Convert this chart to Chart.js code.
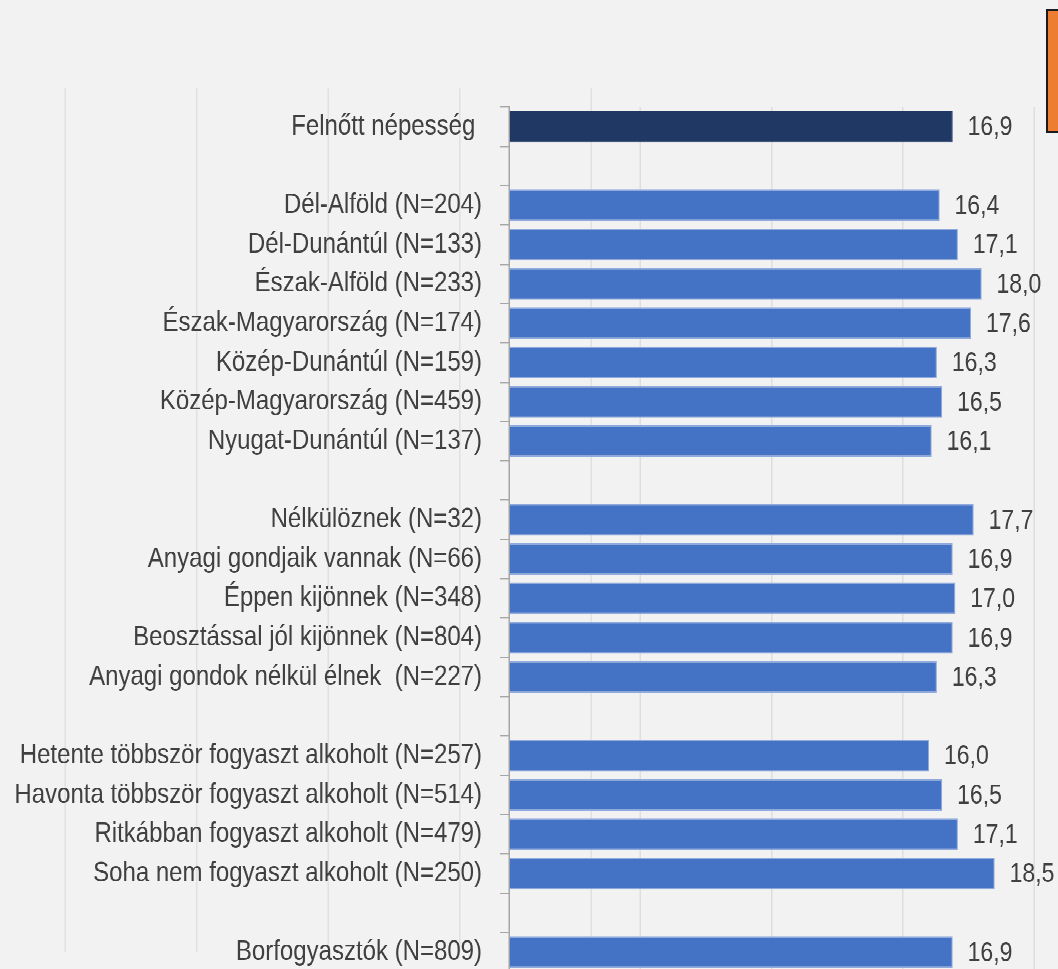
<!DOCTYPE html>
<html>
<head>
<meta charset="utf-8">
<script src="https://cdn.jsdelivr.net/npm/chart.js@4.4.1/dist/chart.umd.min.js"></script>
<style>
  html, body { margin: 0; padding: 0; background: #f2f2f2; overflow: hidden; width: 1058px; height: 969px; }
  /* the source picture is stretched vertically, so the whole stage is too */
  #stage { position: absolute; left: 0; top: 0; width: 1058px; height: 860px; transform: scaleY(1.18); transform-origin: 0 0; }
  .box { position: absolute; left: 0; top: 0; width: 1058px; }
  #tag { position: absolute; left: 1046px; top: 9px; width: 20px; height: 120px; background: #ED7D31; border: 2px solid #1b1b1b; }
</style>
</head>
<body>
<div id="stage">
  <div class="box" style="height:826px"><canvas id="ghost"></canvas></div>
  <div class="box" style="height:856px"><canvas id="main"></canvas></div>
</div>
<div id="tag"></div>
<script>
// categories ('' = empty row between groups)
var categories = [
  "Felnőtt népesség ",
  "",
  "Dél-Alföld (N=204)",
  "Dél-Dunántúl (N=133)",
  "Észak-Alföld (N=233)",
  "Észak-Magyarország (N=174)",
  "Közép-Dunántúl (N=159)",
  "Közép-Magyarország (N=459)",
  "Nyugat-Dunántúl (N=137)",
  "",
  "Nélkülöznek (N=32)",
  "Anyagi gondjaik vannak (N=66)",
  "Éppen kijönnek (N=348)",
  "Beosztással jól kijönnek (N=804)",
  "Anyagi gondok nélkül élnek  (N=227)",
  "",
  "Hetente többször fogyaszt alkoholt (N=257)",
  "Havonta többször fogyaszt alkoholt (N=514)",
  "Ritkábban fogyaszt alkoholt (N=479)",
  "Soha nem fogyaszt alkoholt (N=250)",
  "",
  "Borfogyasztók (N=809)",
];

var values = [
  16.9,
  null,
  16.4, 17.1, 18.0, 17.6, 16.3, 16.5, 16.1,
  null,
  17.7, 16.9, 17.0, 16.9, 16.3,
  null,
  16.0, 16.5, 17.1, 18.5,
  null,
  16.9,
];

var xTicks = [0, 5, 10, 15, 20];

var STRETCH = 1.18;
var textColor = "#404040";
var fontFamily = '"Liberation Sans", Arial, sans-serif';

var barColors = values.map(function (v, i) { return i === 0 ? "#1F3864" : "#4472C4"; });
var barBorders = values.map(function (v, i) { return i === 0 ? "#1F3864" : "#8FAADC"; });

// value labels to the right of each bar
const valueLabels = {
  id: "valueLabels",
  afterDatasetsDraw: function (chart) {
    var ctx = chart.ctx;
    var meta = chart.getDatasetMeta(0);
    ctx.save();
    ctx.font = "23px " + fontFamily;
    ctx.fillStyle = textColor;
    ctx.textAlign = "left";
    ctx.textBaseline = "middle";
    meta.data.forEach(function (bar, i) {
      var v = values[i];
      if (v == null) return;
      ctx.fillText(v.toFixed(1).replace(".", ","), bar.x + 15, bar.y + 1);
    });
    ctx.restore();
  },
};

// faint copy of the grid behind, shifted up-left as in the picture
new Chart(document.getElementById("ghost"), {
  type: "bar",
  data: { labels: categories, datasets: [{ data: [] }] },
  options: {
    indexAxis: "y",
    responsive: true,
    maintainAspectRatio: false,
    animation: false,
    devicePixelRatio: 2,
    layout: { padding: { left: 65, right: 467, top: 88 / STRETCH, bottom: 826 - 952 / STRETCH } },
    plugins: { legend: { display: false }, tooltip: { enabled: false } },
    scales: {
      y: { display: false },
      x: {
        min: xTicks[0],
        max: xTicks[xTicks.length - 1],
        ticks: { display: false, stepSize: 5 },
        grid: { color: "#e1e1e1", lineWidth: 1.5, drawTicks: false },
        border: { display: false },
      },
    },
  },
});

new Chart(document.getElementById("main"), {
  type: "bar",
  data: {
    labels: categories,
    datasets: [
      {
        data: values,
        backgroundColor: barColors,
        borderColor: barBorders,
        borderWidth: 1,
        barPercentage: 0.8,
        categoryPercentage: 1.0,
      },
    ],
  },
  options: {
    indexAxis: "y",
    responsive: true,
    maintainAspectRatio: false,
    animation: false,
    devicePixelRatio: 2,
    layout: { padding: { left: 0, right: 24, top: 107 / STRETCH, bottom: 0 } },
    plugins: { legend: { display: false }, tooltip: { enabled: false } },
    scales: {
      y: {
        afterFit: function (scale) { scale.width = 509; },
        ticks: {
          autoSkip: false,
          padding: 18,
          color: textColor,
          font: { family: fontFamily, size: 24 },
        },
        grid: {
          offset: true,
          drawOnChartArea: false,
          drawTicks: true,
          tickLength: 9,
          color: "#a6a6a6",
          lineWidth: 1.2,
        },
        border: { display: true, color: "#a6a6a6", width: 1.5 },
      },
      x: {
        min: xTicks[0],
        max: xTicks[xTicks.length - 1],
        ticks: { display: false, stepSize: 5 },
        grid: { color: "#dedede", lineWidth: 1.5, drawTicks: false },
        border: { display: false },
      },
    },
  },
  plugins: [valueLabels],
});
</script>
</body>
</html>
